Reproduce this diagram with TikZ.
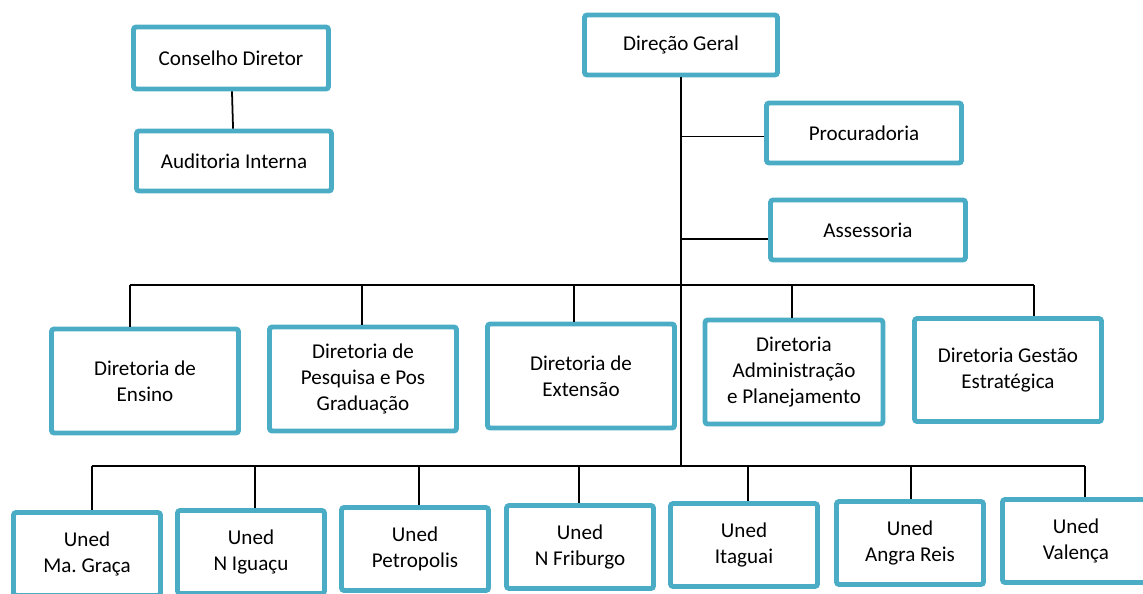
\documentclass[tikz,border=0pt]{standalone}
\usepackage{fontspec}
\setmainfont{Carlito}
\usetikzlibrary{positioning}
\definecolor{boxcyan}{HTML}{4BACC6}
\frenchspacing

\tikzset{
	unidade/.style={draw=boxcyan, line width=2.8pt, rounded corners=1.5pt, fill=white,
		align=center, inner sep=0pt, font=\fontsize{12}{14.8}\selectfont},
	topo/.style={unidade, minimum width=3.9cm, minimum height=1.2cm},
	diretoria/.style={unidade, minimum width=3.74cm, minimum height=2.08cm},
	uned/.style={unidade, minimum width=2.94cm, minimum height=1.66cm},
	ligacao/.style={draw=black, line width=1pt},
}

\begin{document}
\begin{tikzpicture}[x=0.02cm, y=-0.02cm]

	\useasboundingbox (0,0) rectangle (1143,593);

	% topo
	\node[topo, minimum height=1.24cm] (conselho) at (231,58) {Conselho Diretor};
	\node[topo] (auditoria) at (234,161) {Auditoria Interna};
	\node[topo, minimum width=3.86cm] (direcao) at (681,45) {Direção Geral};
	\node[topo] (procuradoria) at (864,133) {Procuradoria};
	\node[topo] (assessoria) at (868,230) {Assessoria};

	% diretorias
	\node[diretoria] (ensino) at (145,381) {Diretoria de\\Ensino};
	\node[diretoria] (pesquisa) at (363,379) {Diretoria de\\Pesquisa e Pos\\Graduação};
	\node[diretoria] (extensao) at (581,376) {Diretoria de\\Extensão};
	\node[diretoria, minimum width=3.56cm] (administracao) at (794,372) {Diretoria\\Administração\\e Planejamento};
	\node[diretoria, minimum height=2.06cm] (gestao) at (1008,370) {Diretoria Gestão\\Estratégica};

	% uneds
	\node[uned] (magraca) at (87,554) {Uned\\Ma. Graça};
	\node[uned] (niguacu) at (251,552) {Uned\\N Iguaçu};
	\node[uned] (petropolis) at (415,549) {Uned\\Petropolis};
	\node[uned] (nfriburgo) at (580,547) {Uned\\N Friburgo};
	\node[uned] (itaguai) at (744,545) {Uned\\Itaguai};
	\node[uned] (angra) at (910,543) {Uned\\Angra Reis};
	\node[uned] (valenca) at (1076,541) {Uned\\Valença};

	% pontos de descida
	\coordinate (barraU) at (0,466);
	\coordinate (dEns) at (130,285);
	\coordinate (dPes) at (362,285);
	\coordinate (dExt) at (574,285);
	\coordinate (dAdm) at (792,285);
	\coordinate (dGes) at (1034,285);
	\coordinate (uMag) at (92,466);
	\coordinate (uNig) at (255,466);
	\coordinate (uPet) at (419,466);
	\coordinate (uNfr) at (579,466);
	\coordinate (uIta) at (748,466);
	\coordinate (uAng) at (911,466);
	\coordinate (uVal) at (1085,466);

	\draw[ligacao] (conselho) -- (auditoria);
	\draw[ligacao] (direcao.south) -- (direcao.south |- barraU);
	\draw[ligacao] (procuradoria.182) -- (procuradoria.182 -| direcao.south);
	\draw[ligacao] (assessoria.185) -- (assessoria.185 -| direcao.south);

	\draw[ligacao] (dEns) -- (dGes);
	\draw[ligacao] (dEns) -- (dEns |- ensino.north);
	\draw[ligacao] (dPes) -- (dPes |- pesquisa.north);
	\draw[ligacao] (dExt) -- (dExt |- extensao.north);
	\draw[ligacao] (dAdm) -- (dAdm |- administracao.north);
	\draw[ligacao] (dGes) -- (dGes |- gestao.north);

	\draw[ligacao] (uMag) -- (uVal);
	\draw[ligacao] (uMag) -- (uMag |- magraca.north);
	\draw[ligacao] (uNig) -- (uNig |- niguacu.north);
	\draw[ligacao] (uPet) -- (uPet |- petropolis.north);
	\draw[ligacao] (uNfr) -- (uNfr |- nfriburgo.north);
	\draw[ligacao] (uIta) -- (uIta |- itaguai.north);
	\draw[ligacao] (uAng) -- (uAng |- angra.north);
	\draw[ligacao] (uVal) -- (uVal |- valenca.north);

\end{tikzpicture}
\end{document}
